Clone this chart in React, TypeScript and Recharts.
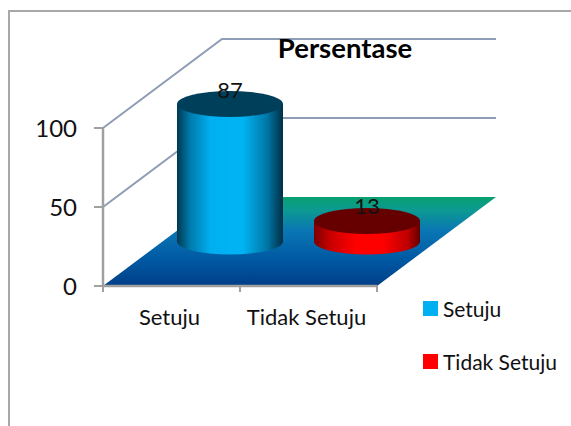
import { BarChart, Bar, XAxis, YAxis, Legend, LabelList, usePlotArea } from "recharts";

const categories = ["Setuju", "Tidak Setuju"];
const setujuValues = [87, null];
const tidakSetujuValues = [null, 13];
const yTicks = [0, 50, 100];

const chartData = categories.map((name, i) => ({
  name,
  Setuju: setujuValues[i],
  "Tidak Setuju": tidakSetujuValues[i],
}));

const FONT = "Lato, sans-serif";
// full depth of the fake 3D box, bars stand half way in
const DEPTH_X = 119;
const DEPTH_Y = 89;
const BAR_SHIFT_X = 58;
const RY = 13;

function Box3D() {
  const plot = usePlotArea();
  if (!plot) return null;
  const left = plot.x;
  const right = plot.x + plot.width;
  const bottom = plot.y + plot.height;
  const yOf = (v: number) => bottom - (plot.height * v) / 100;
  return (
    <g>
      <polygon
        points={`${left},${bottom} ${right},${bottom} ${right + DEPTH_X},${bottom - DEPTH_Y} ${left + DEPTH_X},${bottom - DEPTH_Y}`}
        fill="url(#floorGrad)"
      />
      {yTicks.slice(1).map((v) => (
        <polyline
          key={v}
          points={`${left},${yOf(v)} ${left + DEPTH_X},${yOf(v) - DEPTH_Y} ${right + DEPTH_X},${yOf(v) - DEPTH_Y}`}
          fill="none"
          stroke="#8d9db5"
          strokeWidth={2}
        />
      ))}
      {/* ticks sit between the categories, not under them */}
      {[0, 1, 2].map((i) => {
        const tx = left + (plot.width * i) / categories.length;
        return <line key={i} x1={tx} x2={tx} y1={bottom} y2={bottom + 6} stroke="#a0a0a0" strokeWidth={2} />;
      })}
    </g>
  );
}

function Cylinder(props: any) {
  const { x, y, width, height, value, top, side } = props;
  if (value == null || !height) return null;
  const rx = width / 2;
  const cx = x + rx + BAR_SHIFT_X;
  const topY = y - DEPTH_Y / 2;
  const baseY = topY + height;
  return (
    <g>
      <path
        d={`M${cx - rx},${topY} L${cx - rx},${baseY} A${rx},${RY} 0 0 0 ${cx + rx},${baseY} L${cx + rx},${topY} Z`}
        fill={side}
      />
      <ellipse cx={cx} cy={topY} rx={rx} ry={RY} fill={top} />
    </g>
  );
}

function renderValue(props: any) {
  const { x, y, width, value } = props;
  if (value == null) return null;
  return (
    <text
      x={x + width / 2 + BAR_SHIFT_X}
      y={y - DEPTH_Y / 2 - 15}
      textAnchor="middle"
      dominantBaseline="central"
      fontFamily={FONT}
      fontSize={22}
      fill="#111"
    >
      {value}
    </text>
  );
}

function renderLegend(props: any) {
  return (
    <div>
      {props.payload.map((item: any) => (
        <div key={item.value} style={{ display: "flex", alignItems: "center", height: 53, fontFamily: FONT, fontSize: 21, color: "#111" }}>
          <span style={{ width: 15, height: 15, background: item.color, marginRight: 5 }} />
          {item.value}
        </div>
      ))}
    </div>
  );
}

export default function App() {
  return (
    <div style={{ position: "absolute", left: 0, top: 0, width: 571, height: 426, background: "#fff", overflow: "hidden" }}>
      <div style={{ position: "absolute", left: 8, top: 10, width: 563, height: 416, borderLeft: "2px solid #a8a8a8", borderTop: "2px solid #a8a8a8" }} />
      <BarChart
        width={571}
        height={426}
        data={chartData}
        barSize={106}
        margin={{ top: 128, right: 34, left: 43, bottom: 110 }}
        style={{ position: "absolute", left: 0, top: 0 }}
      >
        <defs>
          <linearGradient id="floorGrad" x1="0" y1="1" x2="0" y2="0">
            <stop offset="0" stopColor="#003f88" />
            <stop offset="0.3" stopColor="#0059a3" />
            <stop offset="0.62" stopColor="#0a76b4" />
            <stop offset="0.85" stopColor="#0c9a92" />
            <stop offset="1" stopColor="#08a070" />
          </linearGradient>
          <linearGradient id="blueSide" x1="0" y1="0" x2="1" y2="0">
            <stop offset="0" stopColor="#00384f" />
            <stop offset="0.12" stopColor="#0079ab" />
            <stop offset="0.32" stopColor="#00b0f0" />
            <stop offset="0.62" stopColor="#00b4f4" />
            <stop offset="0.85" stopColor="#0076a5" />
            <stop offset="1" stopColor="#002f45" />
          </linearGradient>
          <linearGradient id="redSide" x1="0" y1="0" x2="1" y2="0">
            <stop offset="0" stopColor="#7a0000" />
            <stop offset="0.15" stopColor="#c80000" />
            <stop offset="0.4" stopColor="#ff0000" />
            <stop offset="0.65" stopColor="#ff0000" />
            <stop offset="0.88" stopColor="#c00000" />
            <stop offset="1" stopColor="#640000" />
          </linearGradient>
        </defs>
        <Box3D />
        <XAxis
          dataKey="name"
          height={30}
          interval={0}
          tick={{ fill: "#111", fontSize: 22, fontFamily: FONT, dy: 15, dx: -2 }}
          axisLine={{ stroke: "#a0a0a0", strokeWidth: 2.5 }}
          tickLine={false}
        />
        <YAxis
          width={60}
          domain={[0, 100]}
          ticks={yTicks}
          tickSize={9}
          tick={{ fill: "#111", fontSize: 24, fontFamily: FONT, dx: -15 }}
          axisLine={{ stroke: "#a0a0a0", strokeWidth: 2.5 }}
          tickLine={{ stroke: "#a0a0a0", strokeWidth: 2 }}
        />
        <Legend
          layout="vertical"
          align="right"
          verticalAlign="top"
          width={160}
          content={renderLegend}
          wrapperStyle={{ left: 423, top: 282 }}
        />
        <Bar
          dataKey="Setuju"
          stackId="a"
          fill="#00b0f0"
          isAnimationActive={false}
          shape={(p: any) => <Cylinder {...p} side="url(#blueSide)" top="#003f5a" />}
        >
          <LabelList dataKey="Setuju" content={renderValue} />
        </Bar>
        <Bar
          dataKey="Tidak Setuju"
          stackId="a"
          fill="#ff0000"
          isAnimationActive={false}
          shape={(p: any) => <Cylinder {...p} side="url(#redSide)" top="#660000" />}
        >
          <LabelList dataKey="Tidak Setuju" content={renderValue} />
        </Bar>
        <text x={345} y={47} textAnchor="middle" dominantBaseline="central" fontFamily={FONT} fontSize={27.5} fontWeight={700} fill="#000">
          Persentase
        </text>
      </BarChart>
    </div>
  );
}
